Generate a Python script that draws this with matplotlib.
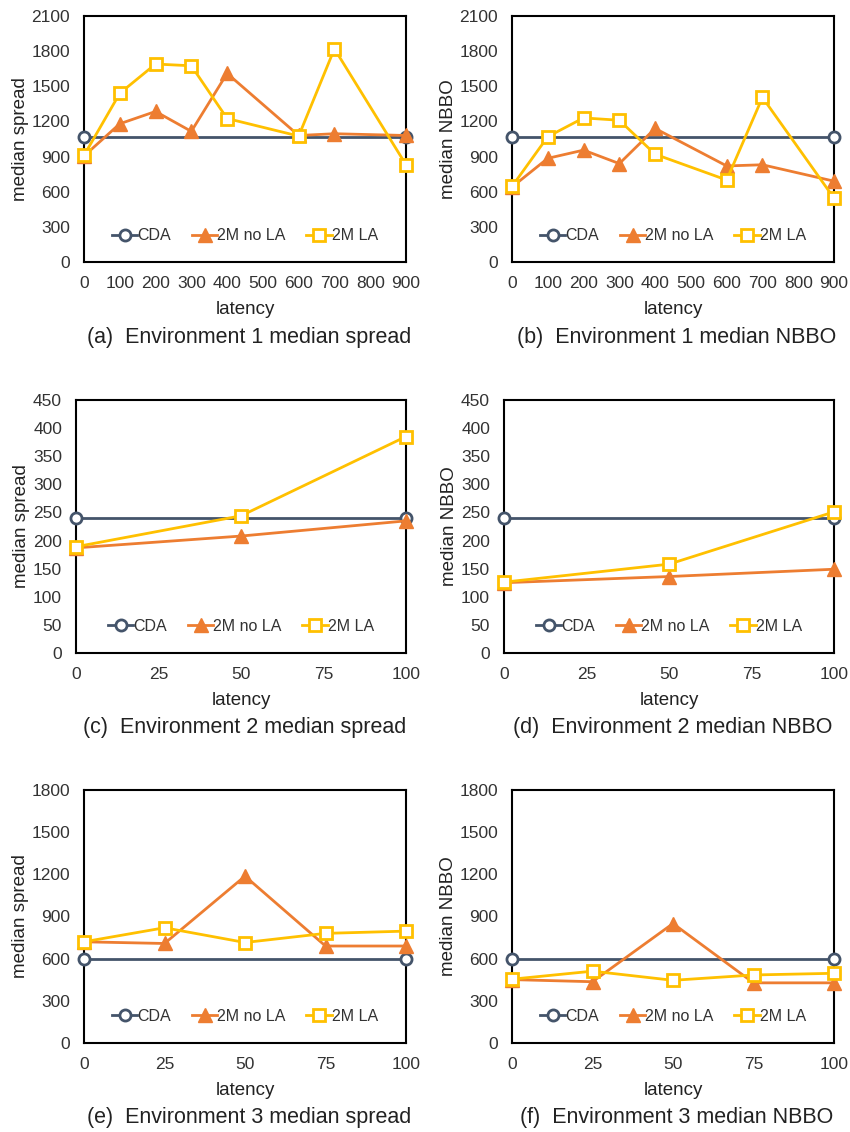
import matplotlib.pyplot as plt

plt.rcParams['font.family'] = ['Liberation Sans', 'DejaVu Sans']

# environment 1 (latency 0..900)
lat1 = [0, 100, 200, 300, 400, 600, 700, 900]
cda1_x = [0, 900]
env1_spread_cda = [1065, 1065]
env1_spread_nola = [905, 1180, 1285, 1115, 1610, 1080, 1095, 1080]
env1_spread_la = [910, 1440, 1690, 1675, 1225, 1075, 1820, 830]
env1_nbbo_cda = [1065, 1065]
env1_nbbo_nola = [640, 885, 955, 840, 1140, 820, 830, 690]
env1_nbbo_la = [645, 1070, 1230, 1210, 920, 700, 1405, 545]

# environment 2 (latency 0, 50, 100)
lat2 = [0, 50, 100]
cda2_x = [0, 100]
env2_spread_cda = [241, 241]
env2_spread_nola = [187, 208, 235]
env2_spread_la = [189, 244, 385]
env2_nbbo_cda = [241, 241]
env2_nbbo_nola = [125, 136, 149]
env2_nbbo_la = [126, 158, 251]

# environment 3 (latency 0..100 step 25)
lat3 = [0, 25, 50, 75, 100]
cda3_x = [0, 100]
env3_spread_cda = [600, 600]
env3_spread_nola = [720, 708, 1187, 690, 690]
env3_spread_la = [720, 820, 715, 780, 796]
env3_nbbo_cda = [600, 600]
env3_nbbo_nola = [451, 436, 850, 428, 428]
env3_nbbo_la = [454, 511, 446, 484, 496]

c_cda = '#44546A'
c_nola = '#ED7D31'
c_la = '#FFC000'

fig = plt.figure(figsize=(8.5, 11.32), dpi=100)
W, H = 850, 1132


def make_axes(l, t, r, b):
    return fig.add_axes([l / W, 1 - b / H, (r - l) / W, (b - t) / H])


panels = [
    # (left, top, right, bottom), cda x, x, series, xticks, yticks, ylabel, caption
    ((84, 16, 406, 262), cda1_x, lat1, (env1_spread_cda, env1_spread_nola, env1_spread_la),
     range(0, 1000, 100), range(0, 2101, 300), 'median spread',
     '(a)  Environment 1 median spread', 338),
    ((512, 16, 834, 262), cda1_x, lat1, (env1_nbbo_cda, env1_nbbo_nola, env1_nbbo_la),
     range(0, 1000, 100), range(0, 2101, 300), 'median NBBO',
     '(b)  Environment 1 median NBBO', 338),
    ((76, 400, 406, 653), cda2_x, lat2, (env2_spread_cda, env2_spread_nola, env2_spread_la),
     range(0, 101, 25), range(0, 451, 50), 'median spread',
     '(c)  Environment 2 median spread', 728),
    ((504, 400, 834, 653), cda2_x, lat2, (env2_nbbo_cda, env2_nbbo_nola, env2_nbbo_la),
     range(0, 101, 25), range(0, 451, 50), 'median NBBO',
     '(d)  Environment 2 median NBBO', 728),
    ((84, 790, 406, 1043), cda3_x, lat3, (env3_spread_cda, env3_spread_nola, env3_spread_la),
     range(0, 101, 25), range(0, 1801, 300), 'median spread',
     '(e)  Environment 3 median spread', 1117),
    ((512, 790, 834, 1043), cda3_x, lat3, (env3_nbbo_cda, env3_nbbo_nola, env3_nbbo_la),
     range(0, 101, 25), range(0, 1801, 300), 'median NBBO',
     '(f)  Environment 3 median NBBO', 1117),
]

for box, cx_data, x, (cda, nola, la), xt, yt, ylab, cap, cap_y in panels:
    ax = make_axes(*box)
    ax.plot(cx_data, cda, color=c_cda, lw=2, marker='o', ms=8, mfc='white', mew=2,
            label='CDA', clip_on=False, zorder=3)
    ax.plot(x, nola, color=c_nola, lw=2, marker='^', ms=10, mew=1,
            label='2M no LA', clip_on=False, zorder=4)
    ax.plot(x, la, color=c_la, lw=2, marker='s', ms=8, mfc='white', mew=2,
            label='2M LA', clip_on=False, zorder=5)
    ax.set_xlim(xt[0], xt[-1])
    ax.set_ylim(yt[0], yt[-1])
    ax.set_xticks(list(xt))
    ax.set_yticks(list(yt))
    ax.tick_params(length=0, labelsize=12.5, pad=10, colors='#333333')
    for s in ax.spines.values():
        s.set_linewidth(1.5)
    ax.set_xlabel('latency', fontsize=13.5, labelpad=7, color='#222222')
    ax.set_ylabel(ylab, fontsize=13.5, labelpad=2, color='#222222')
    ax.legend(loc='lower center', bbox_to_anchor=(0.5, 0.018), ncol=3, frameon=False,
              fontsize=11.5, handlelength=1.6, columnspacing=1.3, handletextpad=0.0,
              labelcolor='#333333')
    cx = (box[0] + box[2]) / 2 + 4
    fig.text(cx / W, 1 - cap_y / H, cap, ha='center', va='center', fontsize=15.5,
             color='#222222')

fig.savefig('out.png', dpi=100)
